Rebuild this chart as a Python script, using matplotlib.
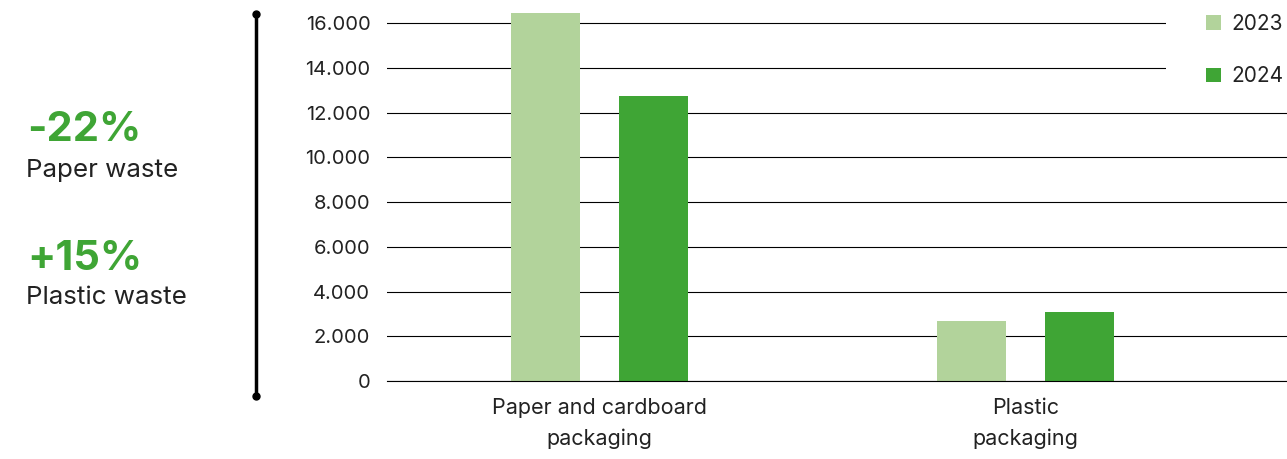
import matplotlib.pyplot as plt
import numpy as np
from matplotlib.lines import Line2D
from matplotlib.patches import Rectangle
from matplotlib.ticker import FuncFormatter

plt.rcParams['font.family'] = ['Inter', 'DejaVu Sans']

categories = ['Paper and cardboard\npackaging', 'Plastic\npackaging']
vals_2023 = [16450, 2700]
vals_2024 = [12750, 3100]
series_labels = ['2023', '2024']
yticks = [0, 2000, 4000, 6000, 8000, 10000, 12000, 14000, 16000]

light_green = '#b2d39b'
dark_green = '#3fa535'
text_col = '#222222'

W, H = 1287, 459
fig = plt.figure(figsize=(W / 100, H / 100), dpi=100)
ax = fig.add_axes([387 / W, 0.170, 1 - 387 / W, 0.804])

x = np.arange(len(categories))
off = 0.127
w = 0.162
ax.bar(x - off, vals_2023, width=w, color=light_green, label=series_labels[0], zorder=3)
ax.bar(x + off, vals_2024, width=w, color=dark_green, label=series_labels[1], zorder=3)

ax.set_xlim(-0.499, 1.614)
ax.set_ylim(0, 16500)
ax.set_yticks(yticks)
ax.yaxis.set_major_formatter(FuncFormatter(lambda v, p: f'{int(v):,}'.replace(',', '.')))
ax.grid(axis='y', color='black', linewidth=0.8, zorder=0)
ax.axhline(0, color='black', linewidth=0.8, zorder=4, clip_on=False)
ax.set_xticks(x)
ax.set_xticklabels(categories, fontsize=15.5, color=text_col, linespacing=1.65)
ax.tick_params(axis='y', length=0, pad=12, labelsize=14.5, labelcolor=text_col)
ax.tick_params(axis='x', length=0, pad=12)
for s in ax.spines.values():
    s.set_visible(False)

# white box behind the legend hides the grid lines there
fig.add_artist(Rectangle((1166 / W, 1 - 95 / H), 1 - 1166 / W, 95 / H,
                         facecolor='white', edgecolor='none',
                         transform=fig.transFigure, zorder=5))
leg = fig.legend(loc='upper left', bbox_to_anchor=(1206 / W, 1 - 14 / H),
                 fontsize=15, frameon=False,
                 handlelength=0.72, handleheight=0.72, handletextpad=0.5,
                 labelspacing=1.55, borderpad=0, borderaxespad=0)
leg.set_zorder(6)
for t in leg.get_texts():
    t.set_color(text_col)

# vertical line with dots on the left
fig.add_artist(Line2D([256 / W, 256 / W], [1 - 14 / H, 1 - 396 / H],
                      color='black', linewidth=2.5, marker='o', markersize=5,
                      transform=fig.transFigure))

fig.text(27 / W, 1 - 130 / H, '-22%', fontsize=30, fontweight='bold',
         color=dark_green, va='center', ha='left')
fig.text(26 / W, 1 - 170 / H, 'Paper waste', fontsize=18.7, color=text_col,
         va='center', ha='left')
fig.text(27 / W, 1 - 259 / H, '+15%', fontsize=30, fontweight='bold',
         color=dark_green, va='center', ha='left')
fig.text(26 / W, 1 - 298 / H, 'Plastic waste', fontsize=18.7, color=text_col,
         va='center', ha='left')

fig.savefig('out.png', dpi=100)
